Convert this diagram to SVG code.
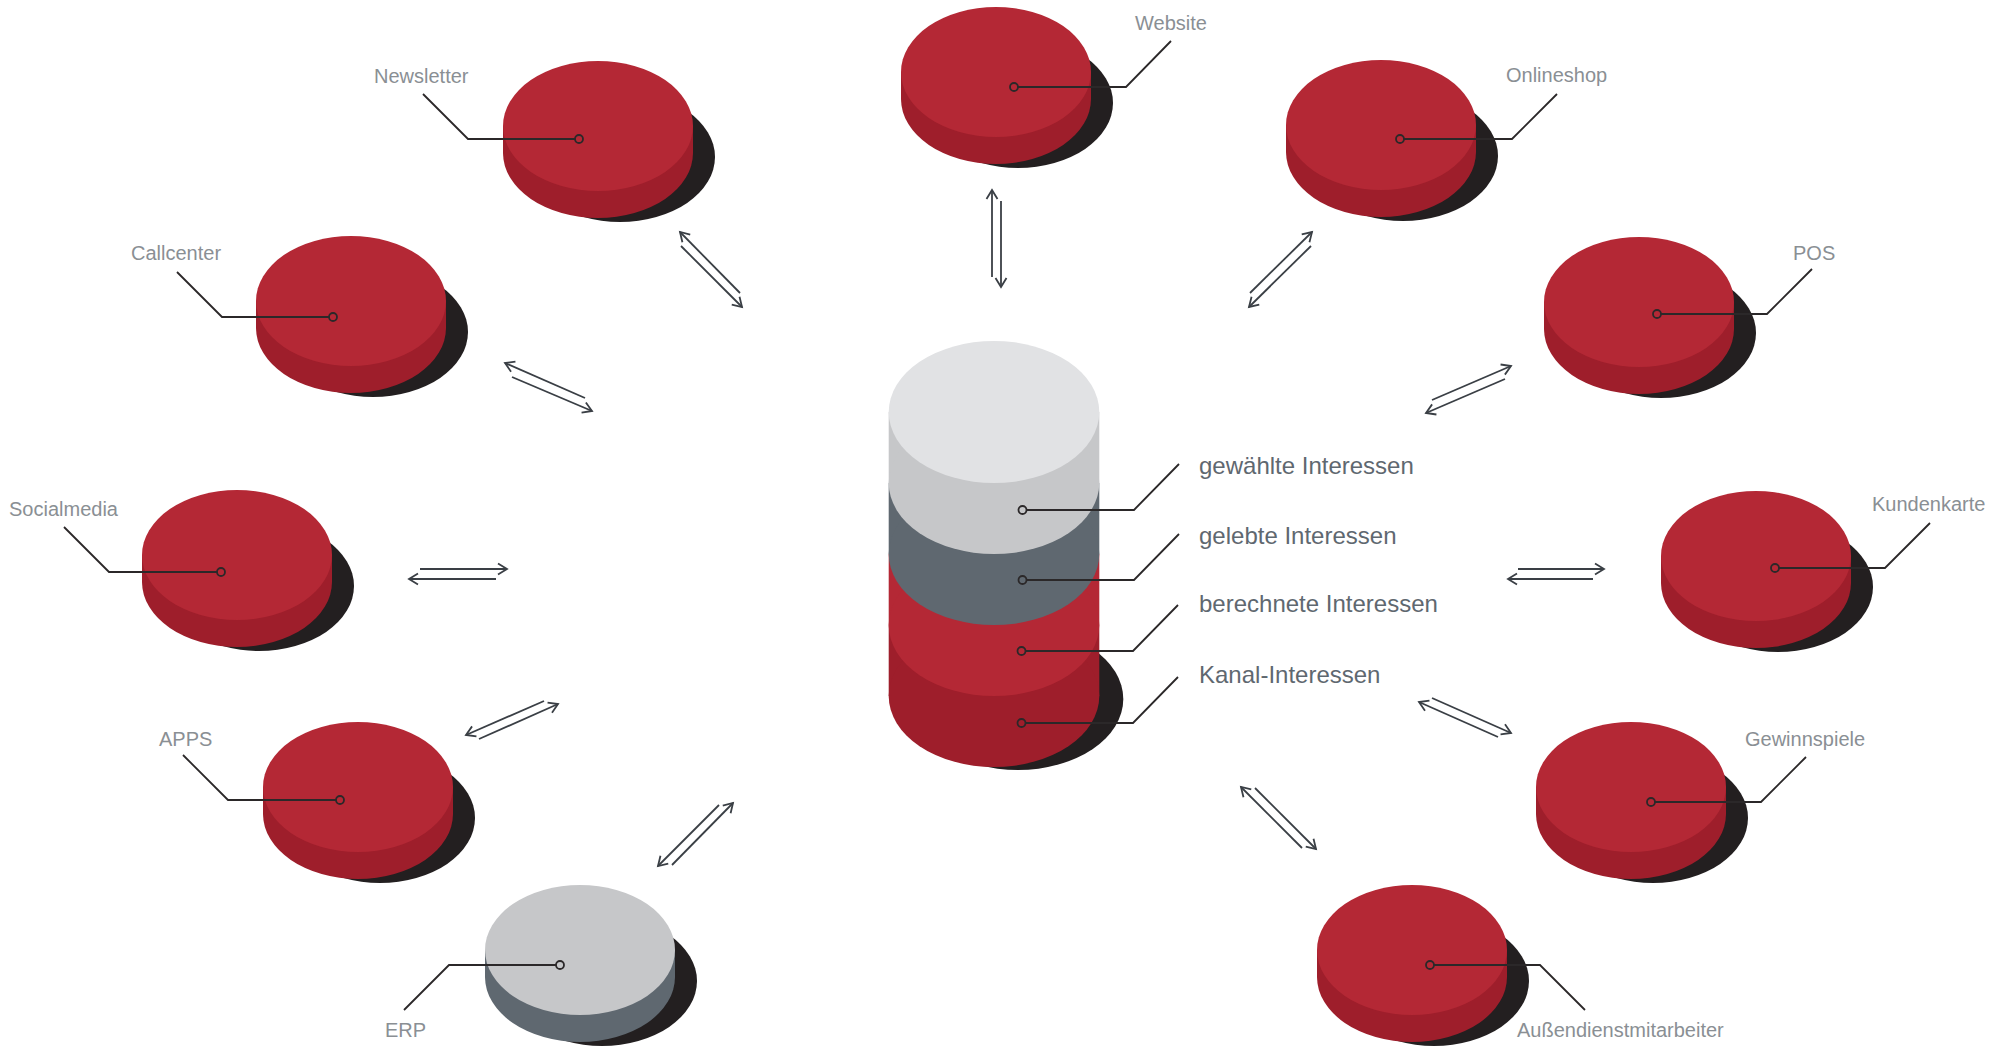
<svg xmlns="http://www.w3.org/2000/svg" xmlns:xlink="http://www.w3.org/1999/xlink" width="2011" height="1047" viewBox="0 0 2011 1047">
<style>
.lbl{font-family:"Liberation Sans",Arial,sans-serif;font-size:20px;fill:#8a8f94}
.clbl{font-family:"Liberation Sans",Arial,sans-serif;font-size:24px;fill:#5f6870}
.lead{fill:none;stroke:#2b2829;stroke-width:1.8}
.dot{fill:none;stroke:#2b2829;stroke-width:1.8}
.arr{fill:none;stroke:#3a3f45;stroke-width:1.8;marker-end:url(#ah)}
</style>
<defs>
<marker id="ah" markerUnits="userSpaceOnUse" markerWidth="14" markerHeight="14" refX="11" refY="7" orient="auto">
<path d="M2,1.5 L11,7 L2,12.5" fill="none" stroke="#3a3f45" stroke-width="1.8"/>
</marker>
<g id="redDisk">
<ellipse cx="22" cy="31" rx="95" ry="65" fill="#231f20"/>
<path d="M-95,0 L-95,27 A95,65 0 0 0 95,27 L95,0 Z" fill="#9e1e2b"/>
<ellipse cx="0" cy="0" rx="95" ry="65" fill="#b42835"/>
</g>
<g id="grayDisk">
<ellipse cx="22" cy="31" rx="95" ry="65" fill="#231f20"/>
<path d="M-95,0 L-95,27 A95,65 0 0 0 95,27 L95,0 Z" fill="#5f6870"/>
<ellipse cx="0" cy="0" rx="95" ry="65" fill="#c6c7c9"/>
</g>
</defs>
<rect width="2011" height="1047" fill="#ffffff"/>

<g id="center">
<ellipse cx="1018" cy="699" rx="105.3" ry="71" fill="#231f20"/>
<rect x="888.7" y="625" width="210.6" height="71" fill="#9e1e2b"/>
<ellipse cx="994" cy="696" rx="105.3" ry="71" fill="#9e1e2b"/>
<rect x="888.7" y="554" width="210.6" height="71" fill="#b42835"/>
<ellipse cx="994" cy="625" rx="105.3" ry="71" fill="#b42835"/>
<rect x="888.7" y="483" width="210.6" height="71" fill="#5f6870"/>
<ellipse cx="994" cy="554" rx="105.3" ry="71" fill="#5f6870"/>
<rect x="888.7" y="412" width="210.6" height="71" fill="#c6c7c9"/>
<ellipse cx="994" cy="483" rx="105.3" ry="71" fill="#c6c7c9"/>
<ellipse cx="994" cy="412" rx="105.3" ry="71" fill="#e1e2e4"/>
<polyline class="lead" points="1026.5,510 1134,510 1179,464"/>
<circle class="dot" cx="1022.5" cy="510" r="4"/>
<polyline class="lead" points="1026.5,580 1134,580 1179,534"/>
<circle class="dot" cx="1022.5" cy="580" r="4"/>
<polyline class="lead" points="1025.5,651 1133,651 1178,605"/>
<circle class="dot" cx="1021.5" cy="651" r="4"/>
<polyline class="lead" points="1025.5,723 1133,723 1178,677"/>
<circle class="dot" cx="1021.5" cy="723" r="4"/>
<text class="clbl" x="1199" y="474">gewählte Interessen</text>
<text class="clbl" x="1199" y="544">gelebte Interessen</text>
<text class="clbl" x="1199" y="612">berechnete Interessen</text>
<text class="clbl" x="1199" y="683">Kanal-Interessen</text>
</g>

<g id="website">
<use xlink:href="#redDisk" x="996" y="72"/>
<polyline class="lead" points="1018,87 1126,87 1171,41"/>
<circle class="dot" cx="1014" cy="87" r="4"/>
<text class="lbl" x="1135" y="30">Website</text>
</g>
<g id="newsletter">
<use xlink:href="#redDisk" x="598" y="126"/>
<polyline class="lead" points="575,139 468,139 423,94"/>
<circle class="dot" cx="579" cy="139" r="4"/>
<text class="lbl" x="374" y="83">Newsletter</text>
</g>
<g id="onlineshop">
<use xlink:href="#redDisk" x="1381" y="125"/>
<polyline class="lead" points="1404,139 1512,139 1557,94"/>
<circle class="dot" cx="1400" cy="139" r="4"/>
<text class="lbl" x="1506" y="82">Onlineshop</text>
</g>
<g id="callcenter">
<use xlink:href="#redDisk" x="351" y="301"/>
<polyline class="lead" points="329,317 222,317 177,272"/>
<circle class="dot" cx="333" cy="317" r="4"/>
<text class="lbl" x="131" y="260">Callcenter</text>
</g>
<g id="pos">
<use xlink:href="#redDisk" x="1639" y="302"/>
<polyline class="lead" points="1661,314 1767,314 1812,269"/>
<circle class="dot" cx="1657" cy="314" r="4"/>
<text class="lbl" x="1793" y="260">POS</text>
</g>
<g id="socialmedia">
<use xlink:href="#redDisk" x="237" y="555"/>
<polyline class="lead" points="217,572 109,572 64,527"/>
<circle class="dot" cx="221" cy="572" r="4"/>
<text class="lbl" x="9" y="516">Socialmedia</text>
</g>
<g id="kundenkarte">
<use xlink:href="#redDisk" x="1756" y="556"/>
<polyline class="lead" points="1779,568 1885,568 1930,523"/>
<circle class="dot" cx="1775" cy="568" r="4"/>
<text class="lbl" x="1872" y="511">Kundenkarte</text>
</g>
<g id="apps">
<use xlink:href="#redDisk" x="358" y="787"/>
<polyline class="lead" points="336,800 228,800 183,755"/>
<circle class="dot" cx="340" cy="800" r="4"/>
<text class="lbl" x="159" y="746">APPS</text>
</g>
<g id="gewinnspiele">
<use xlink:href="#redDisk" x="1631" y="787"/>
<polyline class="lead" points="1655,802 1761,802 1806,757"/>
<circle class="dot" cx="1651" cy="802" r="4"/>
<text class="lbl" x="1745" y="746">Gewinnspiele</text>
</g>
<g id="erp">
<use xlink:href="#grayDisk" x="580" y="950"/>
<polyline class="lead" points="556,965 449,965 404,1010"/>
<circle class="dot" cx="560" cy="965" r="4"/>
<text class="lbl" x="385" y="1037">ERP</text>
</g>
<g id="aussendienst">
<use xlink:href="#redDisk" x="1412" y="950"/>
<polyline class="lead" points="1434,965 1540,965 1585,1010"/>
<circle class="dot" cx="1430" cy="965" r="4"/>
<text class="lbl" x="1517" y="1037">Außendienstmitarbeiter</text>
</g>

<g id="connectors">
<line class="arr" x1="740" y1="293" x2="680" y2="232"/>
<line class="arr" x1="681" y1="246" x2="742" y2="307"/>
<line class="arr" x1="992" y1="277" x2="992" y2="190"/>
<line class="arr" x1="1001" y1="201" x2="1001" y2="287"/>
<line class="arr" x1="1250" y1="293" x2="1312" y2="232"/>
<line class="arr" x1="1311" y1="246" x2="1249" y2="307"/>
<line class="arr" x1="585" y1="398" x2="505" y2="363"/>
<line class="arr" x1="512" y1="377" x2="592" y2="411"/>
<line class="arr" x1="1432" y1="400" x2="1511" y2="366"/>
<line class="arr" x1="1505" y1="379" x2="1426" y2="413"/>
<line class="arr" x1="420" y1="569" x2="507" y2="569"/>
<line class="arr" x1="496" y1="579" x2="409" y2="579"/>
<line class="arr" x1="1518" y1="569" x2="1604" y2="569"/>
<line class="arr" x1="1593" y1="579" x2="1508" y2="579"/>
<line class="arr" x1="544" y1="701" x2="466" y2="735"/>
<line class="arr" x1="479" y1="739" x2="558" y2="704"/>
<line class="arr" x1="1498" y1="737" x2="1419" y2="702"/>
<line class="arr" x1="1432" y1="698" x2="1511" y2="733"/>
<line class="arr" x1="1302" y1="848" x2="1241" y2="787"/>
<line class="arr" x1="1255" y1="788" x2="1316" y2="849"/>
<line class="arr" x1="719" y1="805" x2="658" y2="866"/>
<line class="arr" x1="672" y1="865" x2="733" y2="803"/>
</g>
</svg>
